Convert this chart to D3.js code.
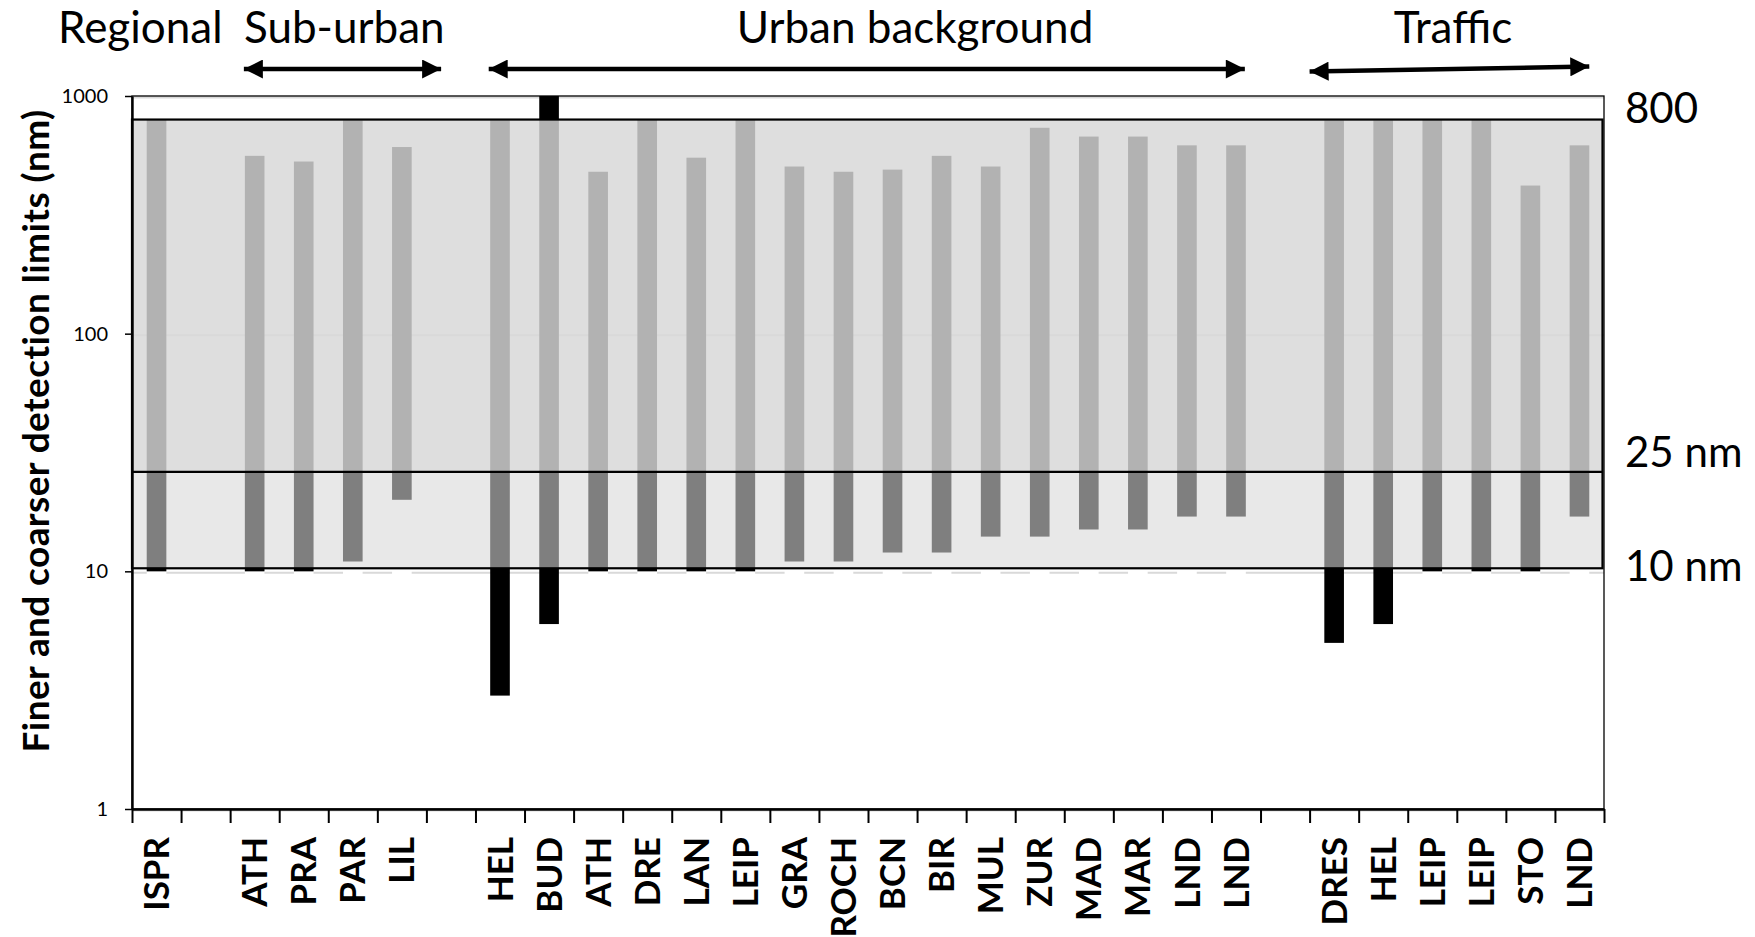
<!DOCTYPE html>
<html>
<head>
<meta charset="utf-8">
<script src="https://cdn.jsdelivr.net/npm/d3@7"></script>
<style>
    body { margin: 0; background: #fff; }
    svg text { font-family: Lato, 'Open Sans', sans-serif; fill: #000; }
</style>
</head>
<body>
<div id="chart"></div>
<script>
// sites, in plot order ('' = empty slot between groups)
const sites = ['ISPR', '', 'ATH', 'PRA', 'PAR', 'LIL', '',
    'HEL', 'BUD', 'ATH', 'DRE', 'LAN', 'LEIP', 'GRA', 'ROCH', 'BCN', 'BIR', 'MUL', 'ZUR', 'MAD', 'MAR', 'LND', 'LND', '',
    'DRES', 'HEL', 'LEIP', 'LEIP', 'STO', 'LND'];

// finer (lower) and coarser (upper) detection limits, nm
const lowerLimit = [10, null, 10, 10, 11, 20, null,
    3, 6, 10, 10, 10, 10, 11, 11, 12, 12, 14, 14, 15, 15, 17, 17, null,
    5, 6, 10, 10, 10, 17];
const upperLimit = [800, null, 560, 530, 790, 610, null,
    790, 1000, 480, 800, 550, 800, 505, 480, 490, 560, 505, 735, 675, 675, 620, 620, null,
    790, 790, 800, 800, 420, 620];

// shaded reference band (as drawn in the figure)
const bandLow = 10.3;
const bandMid = 26.2;
const bandHigh = 796;

const yTicks = [1, 10, 100, 1000];

const groupNames = ['Sub-urban', 'Urban background', 'Traffic'];
const groupFrom = [2.28, 7.27, 24.0];
const groupTo = [6.3, 22.68, 29.7];

const refLabels = ['800', '25 nm', '10 nm'];
const refValues = [bandHigh, bandMid, bandLow];

const WIDTH = 1755;
const HEIGHT = 937;
const plot = { left: 132, right: 1604, top: 96, bottom: 809 };

const svg = d3.select('#chart')
    .append('svg')
    .attr('width', WIDTH)
    .attr('height', HEIGHT);

const idx = d3.range(sites.length);

const x = d3.scaleBand()
    .domain(idx)
    .range([plot.left, plot.right])
    .paddingInner(0.6)
    .paddingOuter(0.3);

const xEdge = d3.scaleLinear()
    .domain([0, sites.length])
    .range([plot.left, plot.right]);

const y = d3.scaleLog()
    .domain([1, 1000])
    .range([plot.bottom, plot.top]);

// shaded band fills
svg.append('rect')
    .attr('x', plot.left)
    .attr('y', y(bandHigh))
    .attr('width', plot.right - plot.left - 1.5)
    .attr('height', y(bandMid) - y(bandHigh))
    .attr('fill', '#dedede');

svg.append('rect')
    .attr('x', plot.left)
    .attr('y', y(bandMid))
    .attr('width', plot.right - plot.left - 1.5)
    .attr('height', y(bandLow) - y(bandMid))
    .attr('fill', '#e8e8e8');

// gridlines
svg.append('g')
    .selectAll('line')
    .data(yTicks)
    .enter()
    .append('line')
    .attr('x1', plot.left)
    .attr('x2', plot.right)
    .attr('y1', d => y(d) + 1.5)
    .attr('y2', d => y(d) + 1.5)
    .attr('stroke', '#d9d9d9')
    .attr('stroke-width', 2);

const rows = idx.filter(i => lowerLimit[i] != null)
    .map(i => ({ i, lo: lowerLimit[i], hi: upperLimit[i] }));

// invisible base of the floating bars (white in the original)
svg.append('g')
    .selectAll('rect')
    .data(rows)
    .enter()
    .append('rect')
    .attr('x', d => x(d.i))
    .attr('width', x.bandwidth())
    .attr('y', d => y(Math.min(d.lo, bandLow)))
    .attr('height', d => y(1) - y(Math.min(d.lo, bandLow)))
    .attr('fill', '#fff');

// colour bands of each bar
const colourBands = [
    { from: 0.1, to: bandLow, fill: '#000' },
    { from: bandLow, to: bandMid, fill: '#7f7f7f' },
    { from: bandMid, to: bandHigh, fill: '#b2b2b2' },
    { from: bandHigh, to: 1e4, fill: '#000' }
];

const segments = [];
rows.forEach(r => {
    colourBands.forEach(b => {
        const a = Math.max(r.lo, b.from);
        const c = Math.min(r.hi, b.to);
        if (c > a) segments.push({ i: r.i, a, c, fill: b.fill });
    });
});

svg.append('g')
    .selectAll('rect')
    .data(segments)
    .enter()
    .append('rect')
    .attr('x', d => x(d.i))
    .attr('width', x.bandwidth())
    .attr('y', d => y(d.c))
    .attr('height', d => y(d.a) - y(d.c))
    .attr('fill', d => d.fill);

// band outlines
svg.append('rect')
    .attr('x', plot.left)
    .attr('y', y(bandHigh))
    .attr('width', plot.right - plot.left - 1.5)
    .attr('height', y(bandLow) - y(bandHigh))
    .attr('fill', 'none')
    .attr('stroke', '#000')
    .attr('stroke-width', 2.2);

svg.append('line')
    .attr('x1', plot.left)
    .attr('x2', plot.right - 1.5)
    .attr('y1', y(bandMid))
    .attr('y2', y(bandMid))
    .attr('stroke', '#000')
    .attr('stroke-width', 2.2);

// plot area border
svg.append('rect')
    .attr('x', plot.left)
    .attr('y', plot.top)
    .attr('width', plot.right - plot.left)
    .attr('height', plot.bottom - plot.top)
    .attr('fill', 'none')
    .attr('stroke', '#000')
    .attr('stroke-width', 1.3);

// y axis
const yAxis = d3.axisLeft(y)
    .tickValues(yTicks)
    .tickFormat(d3.format('d'))
    .tickSize(7)
    .tickSizeOuter(0)
    .tickPadding(17);

svg.append('g')
    .classed('y-axis', true)
    .attr('transform', `translate(${plot.left}, 0)`)
    .call(yAxis)
    .call(g => g.select('.domain').attr('stroke-width', 2.4))
    .call(g => g.selectAll('.tick line').attr('stroke-width', 1.5))
    .call(g => g.selectAll('text')
        .style('font-family', 'Lato')
        .style('font-size', '20px')
        .attr('fill', '#000'));

// x axis (ticks between categories)
const xAxis = d3.axisBottom(xEdge)
    .tickValues(d3.range(sites.length + 1))
    .tickFormat('')
    .tickSize(14)
    .tickSizeOuter(0);

svg.append('g')
    .classed('x-axis', true)
    .attr('transform', `translate(0, ${plot.bottom})`)
    .call(xAxis)
    .call(g => g.select('.domain').attr('stroke-width', 2.4))
    .call(g => g.selectAll('.tick line').attr('stroke-width', 2));

// category labels
svg.append('g')
    .selectAll('text')
    .data(idx.filter(i => sites[i] !== ''))
    .enter()
    .append('text')
    .attr('transform', i => `translate(${x(i) + x.bandwidth() / 2}, ${plot.bottom + 28}) rotate(-90)`)
    .attr('dy', '0.36em')
    .style('text-anchor', 'end')
    .style('font-weight', 700)
    .style('font-size', '35px')
    .text(i => sites[i]);

// y title
svg.append('text')
    .attr('transform', 'translate(36, 431) rotate(-90)')
    .attr('dy', '0.36em')
    .style('text-anchor', 'middle')
    .style('font-weight', 700)
    .style('font-size', '37px')
    .style('letter-spacing', '0.4px')
    .text('Finer and coarser detection limits (nm)');

// group headings
svg.append('text')
    .attr('x', 58)
    .attr('y', 43)
    .style('font-size', '44px')
    .text('Regional');

svg.append('text')
    .attr('x', 244)
    .attr('y', 43)
    .style('font-size', '44px')
    .text(groupNames[0]);

svg.append('text')
    .attr('x', 915)
    .attr('y', 43)
    .style('font-size', '44px')
    .style('text-anchor', 'middle')
    .text(groupNames[1]);

svg.append('text')
    .attr('x', 1453)
    .attr('y', 43)
    .style('font-size', '44px')
    .style('text-anchor', 'middle')
    .text(groupNames[2]);

// double-headed arrows
const defs = svg.append('defs');
['start', 'end'].forEach(k => {
    defs.append('marker')
        .attr('id', `head-${k}`)
        .attr('viewBox', '0 0 10 10')
        .attr('refX', k === 'end' ? 10 : 0)
        .attr('refY', 5)
        .attr('markerUnits', 'userSpaceOnUse')
        .attr('markerWidth', 21)
        .attr('markerHeight', 19)
        .attr('orient', 'auto')
        .append('path')
        .attr('d', k === 'end' ? 'M0,0 L10,5 L0,10 Z' : 'M10,0 L0,5 L10,10 Z')
        .attr('fill', '#000');
});

const arrowTilt = [0, 0, -5];
svg.append('g')
    .selectAll('line')
    .data(groupNames.map((n, i) => i))
    .enter()
    .append('line')
    .attr('x1', i => xEdge(groupFrom[i]))
    .attr('x2', i => xEdge(groupTo[i]))
    .attr('y1', i => 69 - arrowTilt[i] / 2)
    .attr('y2', i => 69 + arrowTilt[i] / 2)
    .attr('stroke', '#000')
    .attr('stroke-width', 4.5)
    .attr('marker-start', 'url(#head-start)')
    .attr('marker-end', 'url(#head-end)');

// reference labels on the right
const refShift = [3, -5, 13];
svg.append('g')
    .selectAll('text')
    .data(refLabels.map((t, i) => i))
    .enter()
    .append('text')
    .attr('x', 1625)
    .attr('y', i => y(refValues[i]) + refShift[i])
    .style('font-size', '42px')
    .text(i => refLabels[i]);
</script>
</body>
</html>
